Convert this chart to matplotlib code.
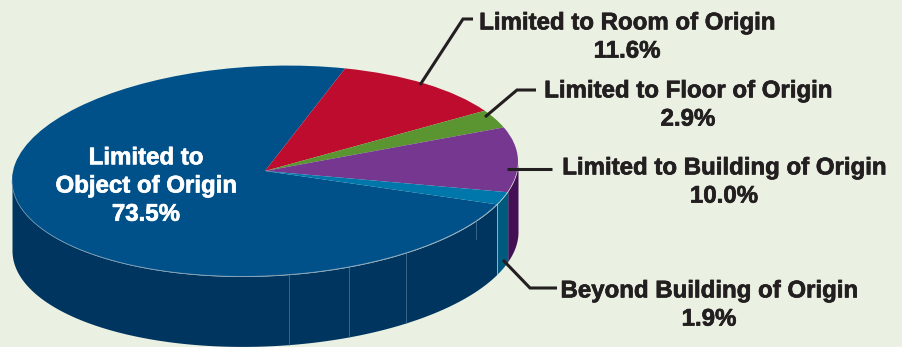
import numpy as np
import matplotlib
matplotlib.use('Agg')
import matplotlib.pyplot as plt
import matplotlib.patheffects as pe
from matplotlib.transforms import Affine2D

categories = ['Limited to\nObject of Origin', 'Limited to Room of Origin', 'Limited to Floor of Origin',
              'Limited to Building of Origin', 'Beyond Building of Origin']
shares = [73.5, 11.6, 2.9, 10.0, 1.9]
top_colors = ['#00508a', '#bd0c2e', '#5a9531', '#75378f', '#0077ab']
side_colors = ['#003560', '#003560', '#003560', '#440f55', '#005a7d']

W, H = 903, 347
bg = '#eaf0e2'
ink = '#231f20'
# pie centre and ellipse radii in pixels
cx, cy, rx, ry = 265, 171, 253, 105
depth = 70 / ry
tilt = 0.09
start = -23.6

plt.rcParams['font.family'] = ['Liberation Sans', 'DejaVu Sans']

fig = plt.figure(figsize=(W / 100, H / 100), dpi=100, facecolor=bg)
ax = fig.add_axes([0, 0, 1, 1])


def rim(t):
    # point on the tilted top ellipse
    return np.cos(t), np.sin(t) + tilt * np.cos(t)


# wall of the disc, only the part facing the viewer
edges = start - np.cumsum([0] + shares) * 3.6
for i in range(len(shares)):
    a, b = edges[i], edges[i + 1]
    if i > 0:
        a, b = a + 360, b + 360
    hi = min(a, 0)
    lo = max(b, -180)
    if hi <= lo:
        continue
    t = np.radians(np.linspace(lo, hi, 200))
    x, y = rim(t)
    ax.fill_between(x, y, y - depth, color=side_colors[i], lw=0)

wedges, _ = ax.pie(shares, colors=top_colors, startangle=start, counterclock=False,
                   radius=1, center=(0, 0), frame=True, wedgeprops={'linewidth': 0})
shear = Affine2D.from_values(1, tilt, 0, 1, 0, 0)
for w in wedges:
    w.set_transform(shear + ax.transData)

# thin light rim and seams on the wall
x, y = rim(np.radians(np.linspace(-180, start, 300)))
ax.plot(x, y, color='#7f9fb8', lw=0.6, alpha=0.8)
for ang, frac in [(-84.6, 1.0), (-70.6, 1.0), (-56.0, 1.0), (-33.5, 0.25)]:
    x, y = rim(np.radians(ang))
    ax.plot([x, x], [y, y - depth * frac], color='#4f7a99', lw=0.5)

ax.set_aspect('auto')
ax.set_xlim(-cx / rx, (W - cx) / rx)
ax.set_ylim((cy - H) / ry, cy / ry)
ax.axis('off')

# overlay in pixel units for callouts and text
ov = fig.add_axes([0, 0, 1, 1])
ov.set_xlim(0, W)
ov.set_ylim(H, 0)
ov.axis('off')

leaders = [
    ([420, 463, 473], [85, 19, 19]),
    ([485, 517, 536], [117, 90, 90]),
    ([507, 552], [169, 169]),
    ([503, 530, 557], [260, 288, 288]),
]
for xs, ys in leaders:
    ov.plot(xs, ys, color=ink, lw=2.2, solid_capstyle='butt', solid_joinstyle='miter')

label_pos = [(146, 186, 'white'), (627, 37, ink), (688, 105, ink), (724, 182, ink), (709, 305, ink)]
for name, val, (x, y, col) in zip(categories, shares, label_pos):
    ov.text(x, y, f'{name}\n{val:.1f}%', color=col, ha='center', va='center',
            fontsize=17.3, fontweight='bold', linespacing=1.29,
            path_effects=[pe.withStroke(linewidth=0.5, foreground=col)])

fig.savefig('out.png', dpi=100, facecolor=bg)
